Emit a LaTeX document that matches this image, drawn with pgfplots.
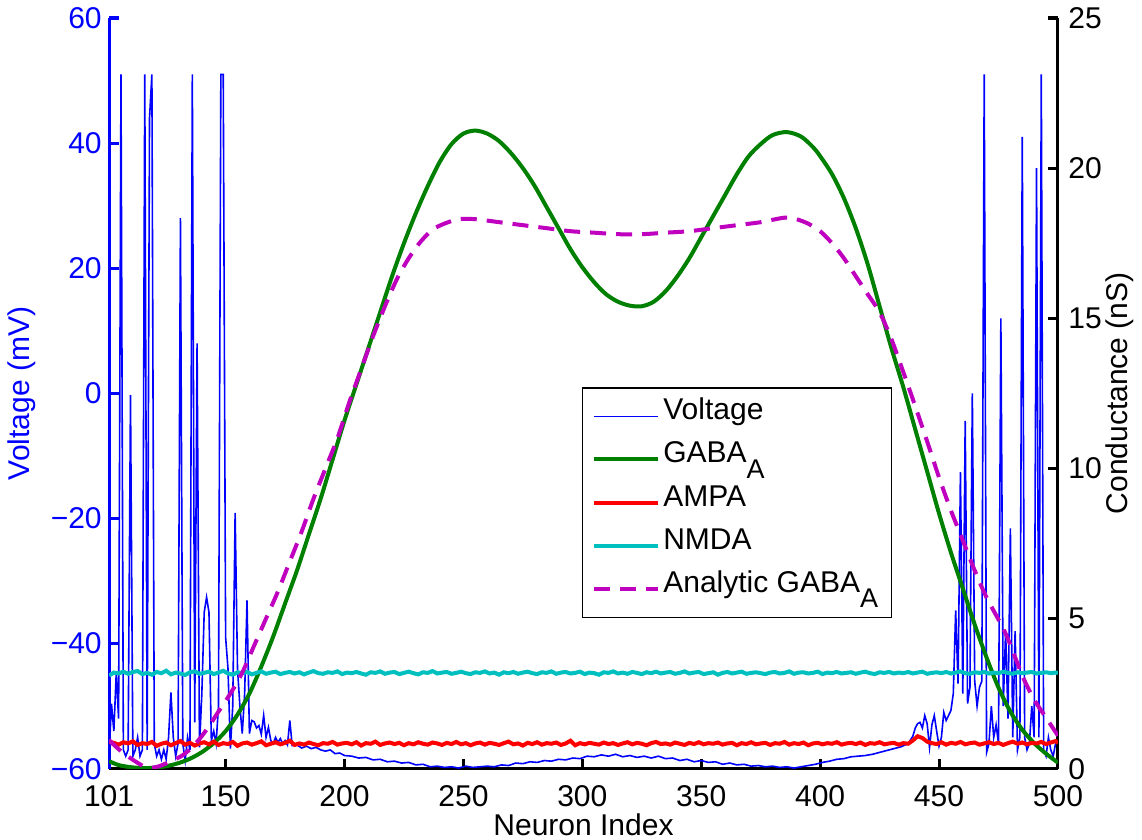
\documentclass[border=0pt]{standalone}
\usepackage{fontspec}
\setmainfont{Liberation Sans}
\usepackage{pgfplots}
\pgfplotsset{compat=1.18}
\usepackage{pgfplotstable}

\definecolor{mgreen}{rgb}{0,0.5,0}
\definecolor{mcyan}{rgb}{0,0.75,0.75}
\definecolor{mmag}{rgb}{0.75,0,0.75}

\newcommand{\gabaA}{GABA\raisebox{-0.5em}{\fontsize{13.5}{15}\selectfont A}}

% synaptic conductances (nS), every 2nd neuron
\pgfplotstableread{
x ampa nmda
101 0.90 3.10
103 0.86 3.20
105 0.80 3.17
107 0.88 3.23
109 0.84 3.16
111 0.91 3.22
113 0.79 3.25
115 0.85 3.15
117 0.82 3.19
119 0.89 3.13
121 0.76 3.22
123 0.83 3.18
125 0.87 3.26
127 0.78 3.14
129 0.85 3.20
131 0.92 3.17
133 0.80 3.12
135 0.86 3.21
137 0.77 3.24
139 0.84 3.16
141 0.88 3.19
143 0.81 3.23
145 0.90 3.15
147 0.79 3.20
149 0.85 3.26
151 0.82 3.17
153 0.89 3.13
155 0.76 3.21
157 0.84 3.18
159 0.87 3.22
161 0.80 3.14
163 0.85 3.19
165 0.91 3.24
167 0.78 3.16
169 0.83 3.20
171 0.88 3.23
173 0.81 3.15
175 0.86 3.19
177 0.93 3.22
179 0.79 3.17
181 0.84 3.21
183 0.80 3.14
185 0.87 3.20
187 0.82 3.25
189 0.78 3.18
191 0.85 3.16
193 0.83 3.21
195 0.89 3.19
197 0.80 3.24
199 0.84 3.15
201 0.86 3.20
203 0.81 3.18
205 0.88 3.22
207 0.77 3.17
209 0.85 3.13
211 0.83 3.21
213 0.90 3.19
215 0.79 3.24
217 0.84 3.16
219 0.87 3.20
221 0.82 3.22
223 0.86 3.15
225 0.78 3.19
227 0.85 3.23
229 0.81 3.18
231 0.88 3.14
233 0.83 3.21
235 0.80 3.19
237 0.87 3.25
239 0.84 3.17
241 0.79 3.20
243 0.86 3.22
245 0.82 3.16
247 0.89 3.19
249 0.81 3.23
251 0.85 3.18
253 0.78 3.15
255 0.84 3.21
257 0.87 3.19
259 0.80 3.24
261 0.86 3.17
263 0.83 3.20
265 0.79 3.13
267 0.85 3.21
269 0.90 3.18
271 0.81 3.22
273 0.84 3.16
275 0.77 3.20
277 0.86 3.23
279 0.82 3.18
281 0.88 3.15
283 0.80 3.21
285 0.85 3.19
287 0.83 3.24
289 0.87 3.16
291 0.79 3.20
293 0.84 3.22
295 0.93 3.17
297 0.78 3.19
299 0.85 3.23
301 0.81 3.15
303 0.86 3.20
305 0.83 3.18
307 0.80 3.13
309 0.87 3.21
311 0.82 3.19
313 0.85 3.24
315 0.79 3.17
317 0.84 3.20
319 0.88 3.16
321 0.81 3.22
323 0.86 3.19
325 0.83 3.15
327 0.78 3.21
329 0.85 3.18
331 0.89 3.23
333 0.82 3.17
335 0.84 3.20
337 0.80 3.22
339 0.87 3.16
341 0.83 3.19
343 0.79 3.24
345 0.86 3.17
347 0.82 3.20
349 0.88 3.22
351 0.81 3.15
353 0.85 3.18
355 0.83 3.21
357 0.87 3.13
359 0.80 3.19
361 0.84 3.22
363 0.86 3.17
365 0.78 3.20
367 0.85 3.23
369 0.82 3.16
371 0.88 3.19
373 0.81 3.21
375 0.84 3.18
377 0.86 3.15
379 0.79 3.20
381 0.85 3.22
383 0.83 3.17
385 0.89 3.19
387 0.80 3.24
389 0.85 3.16
391 0.82 3.20
393 0.87 3.21
395 0.78 3.17
397 0.84 3.19
399 0.86 3.23
401 0.81 3.15
403 0.85 3.20
405 0.83 3.18
407 0.88 3.22
409 0.80 3.17
411 0.84 3.19
413 0.86 3.21
415 0.82 3.16
417 0.87 3.20
419 0.79 3.23
421 0.85 3.18
423 0.83 3.15
425 0.88 3.21
427 0.81 3.19
429 0.84 3.22
431 0.86 3.17
433 0.80 3.20
435 0.85 3.18
437 0.83 3.22
439 0.94 3.17
441 1.08 3.20
443 1.02 3.23
445 0.90 3.16
447 0.85 3.19
449 0.82 3.21
451 0.88 3.18
453 0.80 3.22
455 0.86 3.17
457 0.83 3.20
459 0.89 3.24
461 0.81 3.18
463 0.85 3.16
465 0.87 3.21
467 0.80 3.19
469 0.84 3.22
471 0.88 3.17
473 0.82 3.20
475 0.86 3.18
477 0.79 3.23
479 0.85 3.19
481 0.90 3.16
483 0.83 3.21
485 0.87 3.18
487 0.81 3.20
489 0.86 3.22
491 0.84 3.17
493 0.89 3.19
495 0.82 3.21
497 0.87 3.18
499 0.92 3.20
500 0.85 3.19
}\synapse

\begin{document}
\fontsize{15}{17}\selectfont
\begin{tikzpicture}
\pgfplotsset{
  every axis/.append style={
    scale only axis, width=474pt, height=375pt,
    xmin=101, xmax=500,
    tick align=inside,
    major tick length=5pt,
    axis line style={line width=1.5pt},
    every tick/.style={line width=1.5pt},
    tick label style={font=\fontsize{15}{17}\selectfont},
    label style={font=\fontsize{15}{17}\selectfont},
  }
}
% left axis: voltage
\begin{axis}[
  axis x line*=bottom, axis y line*=left,
  ymin=-60, ymax=60,
  ytick={-60,-40,-20,0,20,40,60},
  yticklabels={−60,−40,−20,0,20,40,60},
  xtick={101,150,200,250,300,350,400,450,500},
  xticklabels={101,150,200,250,300,350,400,450,500},
  xticklabel style={yshift=-3pt},
  yticklabel style={xshift=1.5pt},
  xlabel={Neuron Index},
  ylabel={Voltage (mV)},
  xlabel style={at={(axis description cs:0.5,-0.075)}, anchor=center},
  ylabel style={blue, at={(axis description cs:-0.092,0.5)}, anchor=center},
  y axis line style={draw=blue},
  ytick style={draw=blue},
  yticklabel style={text=blue},
  x axis line style={draw=black},
  xtick style={draw=black},
]
\addplot[blue, line width=0.8pt] coordinates {
(101,-58) (102,-49.6) (103,-54) (104,-44.8) (105,-52) (106,51) (107,-57) (108,-58)
(109,-57) (110,-0.3) (111,-58) (112,-57) (113,-55) (114,-58) (115,-57) (116,51)
(117,-57) (118,44) (119,51) (120,-56) (121,-58) (122,-57) (123,-58.5) (124,-57)
(125,-58.5) (126,-55) (127,-47.8) (128,-55) (129,-58) (130,-56) (131,28) (132,-56)
(133,-58.7) (134,-55) (135,-57) (136,51) (137,-52.6) (138,8) (139,-56.6) (140,-48)
(141,-35) (142,-32.6) (143,-35) (144,-55.5) (145,-54) (146,-56) (147,-50) (148,51)
(149,51) (150,-39) (151,-44) (152,-56.8) (153,-50) (154,-19.1) (155,-44) (156,-50)
(157,-54.4) (158,-48) (159,-33.1) (160,-54.4) (161,-52.3) (162,-52.5) (163,-53.5) (164,-53.1)
(165,-54.5) (166,-51.5) (167,-55) (168,-53.4) (169,-55.5) (170,-56) (171,-55) (172,-55.8)
(173,-55.2) (174,-56) (175,-55.5) (176,-56.2) (177,-52.3) (178,-56.3) (180,-56.2) (182,-56.7)
(184,-56.4) (186,-56.8) (188,-56.6) (190,-57.0) (192,-57.2) (194,-57.0) (196,-57.6) (198,-57.5)
(200,-57.9) (203,-58.0) (206,-58.3) (209,-58.2) (212,-58.6) (215,-58.5) (218,-58.9) (221,-58.8)
(224,-59.1) (227,-59.0) (230,-59.4) (233,-59.3) (236,-59.7) (239,-59.6) (242,-59.8) (245,-59.7)
(248,-59.9) (251,-59.6) (254,-59.8) (257,-59.7) (260,-59.6) (263,-59.7) (266,-59.4) (269,-59.5)
(272,-59.1) (275,-59.2) (278,-58.9) (281,-59.0) (284,-58.7) (287,-58.8) (290,-58.5) (293,-58.6)
(296,-58.3) (299,-58.4) (302,-58.0) (305,-58.1) (308,-57.8) (311,-58.0) (314,-57.7) (317,-58.1)
(320,-57.9) (323,-58.2) (326,-58.0) (329,-58.3) (332,-58.0) (335,-58.4) (338,-58.3) (341,-58.7)
(344,-58.5) (347,-58.9) (350,-58.7) (353,-59.0) (356,-58.9) (359,-59.3) (362,-59.1) (365,-59.4)
(368,-59.3) (371,-59.6) (374,-59.5) (377,-59.7) (380,-59.6) (383,-59.8) (386,-59.7) (389,-59.9)
(392,-59.7) (395,-59.5) (398,-59.3) (401,-59.0) (404,-58.8) (407,-58.5) (410,-58.4) (413,-58.1)
(416,-58.0) (419,-57.9) (422,-57.7) (425,-57.4) (428,-57.1) (431,-56.8) (434,-56.5) (437,-56.0)
(439,-54.8) (440,-53.5) (441,-52.8) (442,-52.6) (443,-53.5) (444,-51.5) (445,-52.8) (446,-56.6)
(447,-53) (448,-51.5) (449,-54) (450,-56.4) (451,-55) (452,-51) (453,-52.3) (454,-51.5)
(455,-50.7) (456,-48) (457,-34.7) (458,-46.4) (459,-12.6) (460,-48) (461,-4.4) (462,-49.6)
(463,-47) (464,0) (465,-46) (466,-50) (467,-47) (468,-46) (469,51) (470,-57.4)
(471,-56) (472,-50) (473,-55) (474,-53) (475,-56) (476,12) (477,-50) (478,-38)
(479,-52) (480,-21.6) (481,-55) (482,-38) (483,-57) (484,-55) (485,41) (486,-55)
(487,-57) (488,-56) (489,-50) (490,-55) (491,36) (492,-55) (493,51) (494,-57)
(495,-58) (496,-55) (497,-57) (498,-58) (499,-56) (500,-56.8)
};
\end{axis}
% right axis: conductances
\begin{axis}[
  axis x line=none, axis y line*=right,
  ymin=0, ymax=25,
  ytick={0,5,10,15,20,25},
  yticklabels={0,5,10,15,20,25},
  ylabel={Conductance (nS)},
  ylabel style={at={(axis description cs:1.065,0.5)}, anchor=center},
  legend cell align=left,
  legend image code/.code={\draw[#1] (0pt,0pt) -- (16pt,0pt) -- (32pt,0pt);},
  legend style={at={(0.498,0.508)}, anchor=north west, draw=black, line width=0.6pt,
    font=\fontsize{15}{17}\selectfont, row sep=-1pt,
    nodes={text height=11pt, text depth=7.5pt, inner xsep=1.5pt},
    inner xsep=5pt, inner ysep=3pt},
]
\addlegendimage{blue, line width=0.8pt}
\addlegendentry{Voltage}
\addplot[mgreen, line width=2pt, smooth] coordinates {
(101,0.25) (105,0.12) (110,0.05) (115,0.02) (120,0.03) (125,0.08) (130,0.18) (135,0.33)
(140,0.55) (145,0.85) (150,1.25) (155,1.8) (160,2.5) (165,3.4) (170,4.4) (175,5.5)
(180,6.6) (185,7.8) (190,9.0) (195,10.3) (200,11.6) (205,12.8) (210,14.0) (215,15.2)
(220,16.4) (225,17.5) (230,18.5) (235,19.4) (240,20.2) (245,20.8) (250,21.15) (255,21.25)
(260,21.15) (265,20.9) (270,20.5) (275,20.0) (280,19.4) (285,18.7) (290,18.0) (295,17.3)
(300,16.7) (305,16.2) (310,15.8) (315,15.55) (320,15.42) (325,15.4) (330,15.55) (335,15.9)
(340,16.4) (345,17.0) (350,17.7) (355,18.4) (360,19.1) (365,19.8) (370,20.4) (375,20.8)
(380,21.1) (386,21.2) (392,21.05) (397,20.7) (400,20.4) (405,19.8) (410,19.0) (415,18.0)
(420,16.8) (425,15.4) (430,14.0) (435,12.7) (440,11.3) (445,9.9) (450,8.5) (455,7.2)
(460,6.0) (465,4.8) (470,3.7) (475,2.7) (480,1.9) (485,1.3) (490,0.85) (495,0.5) (500,0.2)
};
\addlegendentry{\gabaA}
\addplot[red, line width=2pt] table[x=x, y=ampa] {\synapse};
\addlegendentry{AMPA}
\addplot[mcyan, line width=2pt] table[x=x, y=nmda] {\synapse};
\addlegendentry{NMDA}
\addplot[mmag, line width=2pt, dash pattern=on 8pt off 5pt, smooth] coordinates {
(101,0.95) (105,0.65) (110,0.35) (115,0.1) (118,0.03) (122,0.08) (127,0.25) (132,0.45)
(137,0.8) (142,1.3) (147,1.9) (152,2.5) (157,3.2) (162,4.1) (167,5.0) (172,5.9)
(177,6.9) (182,7.9) (187,9.0) (192,10.0) (197,11.0) (202,12.2) (207,13.3) (212,14.4)
(217,15.4) (222,16.3) (227,17.0) (232,17.55) (237,17.95) (242,18.15) (248,18.3) (255,18.3)
(265,18.2) (275,18.1) (285,18.0) (295,17.9) (305,17.85) (315,17.8) (325,17.8) (335,17.85)
(345,17.9) (355,18.0) (365,18.1) (375,18.2) (385,18.35) (390,18.3) (395,18.15) (400,17.9)
(405,17.5) (410,17.0) (415,16.4) (420,15.8) (425,15.2) (430,14.3) (435,13.2) (439,12.3)
(445,10.9) (450,9.7) (455,8.6) (459,7.8) (465,6.6) (470,5.7) (478,4.5) (485,3.1)
(490,2.3) (495,1.7) (500,1.1)
};
\addlegendentry{Analytic \gabaA}
\end{axis}
\path (current axis.south west) ++(-54.5pt,-35.5pt) coordinate (bbl);
\path (current axis.north east) ++(42pt,9pt) coordinate (btr);
\pgfresetboundingbox
\path[use as bounding box] (bbl) rectangle (btr);
\end{tikzpicture}
\end{document}
